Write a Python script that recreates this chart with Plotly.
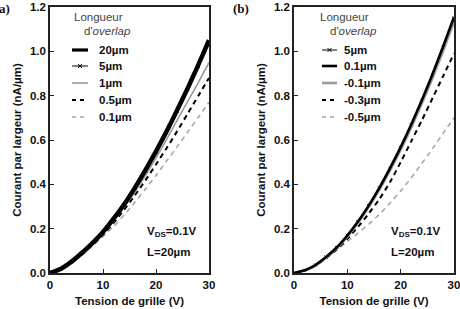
import plotly.graph_objects as go

W, H = 460, 309

# ---------------- data ----------------
V = [0, 2, 4, 6, 8, 10, 12, 14, 16, 18, 20, 22, 24, 26, 28, 30]

names_a = ["20µm", "5µm", "1µm", "0.5µm", "0.1µm"]
a_20 = [0.0, 0.018, 0.05, 0.09, 0.135, 0.185, 0.245, 0.31, 0.384, 0.464, 0.549, 0.639, 0.735, 0.835, 0.94, 1.05]
a_5 = [0.0, 0.018, 0.05, 0.09, 0.134, 0.184, 0.243, 0.308, 0.381, 0.46, 0.544, 0.633, 0.728, 0.827, 0.932, 1.04]
a_1 = [0.0, 0.017, 0.048, 0.087, 0.13, 0.178, 0.235, 0.298, 0.365, 0.44, 0.52, 0.602, 0.69, 0.775, 0.86, 0.95]
a_05 = [0.0, 0.017, 0.047, 0.085, 0.127, 0.173, 0.226, 0.286, 0.35, 0.418, 0.49, 0.563, 0.64, 0.72, 0.80, 0.88]
a_01 = [0.0, 0.016, 0.045, 0.082, 0.122, 0.165, 0.21, 0.262, 0.318, 0.378, 0.44, 0.505, 0.57, 0.637, 0.703, 0.77]

names_b = ["5µm", "0.1µm", "-0.1µm", "-0.3µm", "-0.5µm"]
b_5 = [0.0, 0.012, 0.036, 0.072, 0.116, 0.17, 0.232, 0.304, 0.384, 0.472, 0.566, 0.668, 0.778, 0.895, 1.02, 1.15]
b_01 = [0.0, 0.012, 0.036, 0.072, 0.115, 0.169, 0.232, 0.304, 0.384, 0.473, 0.568, 0.671, 0.782, 0.899, 1.024, 1.155]
b_m01 = [0.0, 0.011, 0.034, 0.069, 0.111, 0.164, 0.226, 0.297, 0.376, 0.463, 0.556, 0.658, 0.767, 0.882, 1.005, 1.135]
b_m03 = [0.0, 0.011, 0.033, 0.066, 0.106, 0.154, 0.208, 0.268, 0.333, 0.41, 0.50, 0.595, 0.69, 0.79, 0.89, 0.99]
b_m05 = [0.0, 0.011, 0.034, 0.068, 0.105, 0.142, 0.18, 0.22, 0.265, 0.315, 0.37, 0.43, 0.495, 0.562, 0.631, 0.70]

x_ticks = [0, 10, 20, 30]
y_ticks = [0.0, 0.2, 0.4, 0.6, 0.8, 1.0, 1.2]
y_ticklabels = ["0.0", "0.2", "0.4", "0.6", "0.8", "1.0", "1.2"]

# ---------------- styles ----------------
BLACK = "#000000"
GRAY = "#9a9a9a"
LGRAY = "#a8a8a8"
styles_a = [
    dict(color=BLACK, width=4.5, dash="solid", marker=False),
    dict(color=BLACK, width=1.2, dash="solid", marker=True),
    dict(color=GRAY, width=1.6, dash="solid", marker=False),
    dict(color=BLACK, width=2.0, dash="5px,4px", marker=False),
    dict(color=LGRAY, width=1.6, dash="5px,4px", marker=False),
]
styles_b = [
    dict(color=BLACK, width=1.2, dash="solid", marker=True),
    dict(color=BLACK, width=2.6, dash="solid", marker=False),
    dict(color=GRAY, width=2.6, dash="solid", marker=False),
    dict(color=BLACK, width=2.0, dash="5px,4px", marker=False),
    dict(color=LGRAY, width=1.6, dash="5px,4px", marker=False),
]

FONT = "Liberation Sans, Arial, sans-serif"

def px_x(p):
    return p / W

def px_y(p):
    return 1 - p / H

fig = go.Figure()

def add_series(ys, style, name, xa, ya):
    mode = "lines+markers" if style["marker"] else "lines"
    fig.add_trace(go.Scatter(
        x=V, y=ys, mode=mode, name=name, showlegend=False,
        line=dict(color=style["color"], width=style["width"], dash=style["dash"], shape="spline", smoothing=0.6),
        marker=dict(symbol="x-thin", size=3, line=dict(width=1, color=style["color"])) if style["marker"] else None,
        xaxis=xa, yaxis=ya,
    ))

series_a = [a_20, a_5, a_1, a_05, a_01]
series_b = [b_5, b_01, b_m01, b_m03, b_m05]
order_a = [4, 3, 2, 0, 1]
order_b = [4, 3, 0, 2, 1]
for i in order_a:
    add_series(series_a[i], styles_a[i], names_a[i], "x", "y")
for i in order_b:
    add_series(series_b[i], styles_b[i], names_b[i], "x2", "y2")

# ---------------- axes ----------------
plot_top, plot_bot = 7, 273
panels = [(50, 209), (294, 454)]
ydom = [px_y(plot_bot), px_y(plot_top)]

axis_common = dict(
    showline=True, linecolor="#222", linewidth=1.5, mirror=True,
    ticks="inside", ticklen=4, tickwidth=1, tickcolor="#222",
    showgrid=False, zeroline=False,
    tickfont=dict(family=FONT, size=11.5, color="#111", weight="bold"),
    ticklabeloverflow="allow",
    automargin=False,
)
for k, (l, r) in enumerate(panels):
    sfx = "" if k == 0 else str(k + 1)
    fig.layout["xaxis" + sfx] = dict(
        axis_common, domain=[px_x(l), px_x(r)], range=[0, 30],
        tickvals=x_ticks, anchor="y" + sfx,
        title=dict(text="Tension de grille (V)", font=dict(family=FONT, size=11.5, color="#111", weight="bold"), standoff=7),
    )
    fig.layout["yaxis" + sfx] = dict(
        axis_common, domain=ydom, range=[0, 1.2],
        tickvals=y_ticks, ticktext=y_ticklabels, anchor="x" + sfx,
        title=dict(text="Courant par largeur (nA/µm)", font=dict(family=FONT, size=11.5, color="#111", weight="bold"), standoff=6),
    )

annotations = []
shapes = []

def ann(x, y, text, size=11.5, color="#111", bold=True, xanchor="left", family=FONT):
    annotations.append(dict(
        x=px_x(x), y=px_y(y), xref="paper", yref="paper", text=text, showarrow=False,
        xanchor=xanchor, yanchor="middle",
        font=dict(family=family, size=size, color=color, weight="bold" if bold else "normal"),
    ))

# panel labels
ann(-3, 8, "a)", size=13, family="Liberation Serif, Times New Roman, serif")
ann(231, 8, "(b)", size=13, family="Liberation Serif, Times New Roman, serif")

# legends (manual)
rows = [50, 66, 83, 100, 117]
legends = [
    (72, 88, 97, 72, 82, names_a, styles_a),
    (322, 337, 342, 318, 328, names_b, styles_b),
]
for (lx0, lx1, tx, t1x, t2x, names, styles) in legends:
    ann(t1x, 17, "Longueur", size=11.5, color="#444", bold=False)
    ann(t2x, 31, "d'<i>overlap</i>", size=11.5, color="#444", bold=False)
    for yy, nm, st in zip(rows, names, styles):
        w = st["width"] if st["width"] < 4 else 3.2
        shapes.append(dict(type="line", xref="paper", yref="paper",
                           x0=px_x(lx0), x1=px_x(lx1), y0=px_y(yy), y1=px_y(yy),
                           line=dict(color=st["color"], width=max(w, 1.5) if not st["marker"] else 1.0,
                                     dash="4px,4px" if st["dash"] != "solid" else "solid")))
        if st["marker"]:
            cx = (lx0 + lx1) / 2
            for s in (1, -1):
                shapes.append(dict(type="line", xref="paper", yref="paper",
                                   x0=px_x(cx - 2), x1=px_x(cx + 2), y0=px_y(yy - 2 * s), y1=px_y(yy + 2 * s),
                                   line=dict(color=BLACK, width=1)))
        ann(tx, yy, nm)

# conditions
for x0 in (145, 389):
    ann(x0, 232, "V<sub>DS</sub>=0.1V")
    ann(x0, 252, "L=20µm")

fig.update_layout(
    width=W, height=H,
    margin=dict(l=0, r=0, t=0, b=0),
    paper_bgcolor="white", plot_bgcolor="white",
    annotations=annotations, shapes=shapes,
    showlegend=False,
)

fig.write_html("out.html")
